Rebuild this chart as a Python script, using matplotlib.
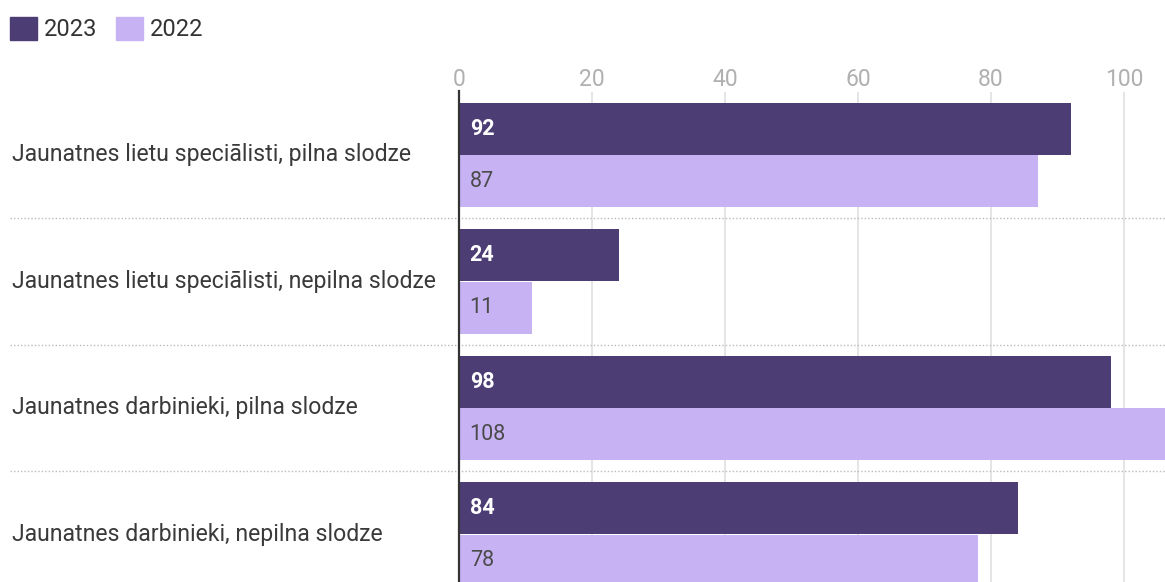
import numpy as np
import matplotlib
matplotlib.use('Agg')
import matplotlib.pyplot as plt
from matplotlib.patches import Patch
from matplotlib.transforms import blended_transform_factory

plt.rcParams['font.family'] = ['Roboto', 'DejaVu Sans']

# data
categories = ['Jaunatnes lietu speciālisti, pilna slodze',
              'Jaunatnes lietu speciālisti, nepilna slodze',
              'Jaunatnes darbinieki, pilna slodze',
              'Jaunatnes darbinieki, nepilna slodze']
vals_2023 = [92, 24, 98, 84]
vals_2022 = [87, 11, 108, 78]
series_names = ['2023', '2022']
xticks = [0, 20, 40, 60, 80, 100]

col_2023 = '#4c3d74'
col_2022 = '#c7b3f4'

fig = plt.figure(figsize=(11.65, 5.82), dpi=100)
ax = fig.add_axes([459/1165, 0, 1 - 459/1165, (582 - 91.5)/582])

y = np.arange(len(categories))
h = 0.41
ax.barh(y - 0.205, vals_2023, height=h, color=col_2023, zorder=3)
ax.barh(y + 0.21, vals_2022, height=h, color=col_2022, zorder=3)

# value labels inside bars
for i in range(len(categories)):
    ax.text(1.6, y[i] - 0.205, str(vals_2023[i]), color='white', fontweight='bold',
            fontsize=15.5, va='center', ha='left', zorder=4)
    ax.text(1.6, y[i] + 0.21, str(vals_2022[i]), color='#4a4a4a',
            fontsize=15.5, va='center', ha='left', zorder=4)

# category labels at the far left
tr = blended_transform_factory(fig.transFigure, ax.transData)
for i, c in enumerate(categories):
    ax.text(12/1165, y[i], c, transform=tr, fontsize=16.6, color='#3a3a3a',
            va='center', ha='left')

# dotted separators between groups
left_frac = (10 - 459) / (1165 - 459)
for k in range(len(categories) - 1):
    ax.axhline(k + 0.5, xmin=left_frac, xmax=1, color='#bbbbbb', linestyle=(0, (1, 1.5)),
               linewidth=1, clip_on=False, zorder=2)

ax.set_xlim(0, (1165 - 459) / 6.65)
ax.set_ylim(3.377, -0.5)
ax.set_xticks(xticks)
ax.xaxis.tick_top()
ax.tick_params(axis='x', length=0, pad=0.5, labelsize=16.5, labelcolor='#b0b0b0')
ax.set_yticks([])
ax.grid(axis='x', color='#e3e3e3', linewidth=1.3, zorder=0)
for s in ['top', 'right', 'bottom']:
    ax.spines[s].set_visible(False)
ax.spines['left'].set_color('#333333')
ax.spines['left'].set_linewidth(1.6)
ax.spines['left'].set_zorder(5)

handles = [Patch(color=col_2023, label=series_names[0]), Patch(color=col_2022, label=series_names[1])]
fig.legend(handles=handles, loc='upper left', bbox_to_anchor=(-0.010, 1.008), ncol=2, frameon=False,
           fontsize=17, handlelength=1.15, handleheight=1.15, handletextpad=0.3, columnspacing=0.8,
           labelcolor='#333333')

fig.savefig('out.png', dpi=100)
